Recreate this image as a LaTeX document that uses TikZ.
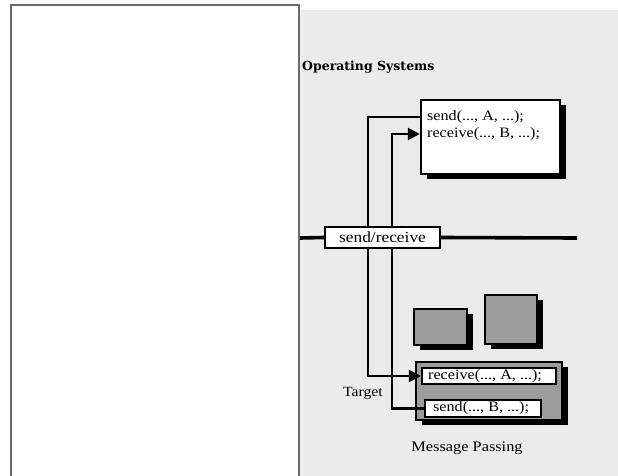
\documentclass[tikz,border=0pt]{standalone}
\usepackage{fontspec}
\setmainfont{Liberation Serif}[FakeStretch=1.12]
\newfontfamily\titlefont{DejaVu Serif}
\usetikzlibrary{shadows,arrows.meta}
\definecolor{paper}{HTML}{EBEBEB}
\definecolor{stone}{HTML}{9C9C9C}
\definecolor{frame}{HTML}{6A6A6A}
\tikzset{
  shadowed/.style={drop shadow={shadow xshift=6pt,shadow yshift=-5pt,fill=black,opacity=1}},
  whitebox/.style={draw=black,fill=white,line width=2.4pt,inner sep=0pt,shadowed},
  graybox/.style={draw=black,fill=stone,line width=2.4pt,inner sep=0pt,shadowed},
  codebox/.style={draw=black,fill=white,line width=2.4pt,inner sep=0pt},
  codetext/.style={anchor=west,inner sep=0pt,font=\fontsize{14.4}{16}\selectfont},
  linkarrow/.style={line width=2.6pt,-{Triangle[length=12pt,width=12pt]}},
  bus/.style={line width=3.6pt},
  caption/.style={inner sep=0pt}
}
\begin{document}
\begin{tikzpicture}[x=1pt,y=-1pt]
\useasboundingbox (0,0) rectangle (618,476);
\fill[white] (0,0) rectangle (618,476);
\fill[paper] (300,10) rectangle (618,476);
\draw[frame,line width=1.6pt] (11,480) -- (11,5) -- (299,5) -- (299,480);

\node[anchor=west,inner sep=0pt,font=\titlefont\bfseries\fontsize{12.5}{14}\selectfont] (title) at (302,67) {Operating Systems};

% top (system) box
\node[whitebox,minimum width=139pt,minimum height=74pt] (sys) at (490.5,137) {};
\node[codetext] (tsend) at (427,117) {send(..., A, ...);};
\node[codetext] (trecv) at (427,134) {receive(..., B, ...);};

% other processes
\node[graybox,minimum width=53pt,minimum height=36pt] (p1) at (440.5,327) {};
\node[graybox,minimum width=52pt,minimum height=49pt] (p2) at (511,319.5) {};

% target process
\node[graybox,minimum width=146pt,minimum height=58pt] (tgt) at (489,391) {};
\node[codebox,minimum width=134pt,minimum height=16pt] (rA) at (489,376) {};
\node[codetext] at (428,376) {receive(..., A, ...);};
\node[codebox,minimum width=116pt,minimum height=17pt] (sB) at (483,408.5) {};
\node[codetext] at (433,408.5) {send(..., B, ...);};

\coordinate (outer) at (368,0);
\coordinate (inner) at (392,0);
\draw[linkarrow] (sys.west |- tsend) -| (outer |- rA.west) -- (rA.west);
\draw[linkarrow] (sB.west) -| (inner |- trecv) -- (sys.west |- trecv);

% message bus
\coordinate (busL) at (300,238);
\coordinate (busR) at (577,238);
\node[draw=black,fill=white,line width=2.2pt,minimum width=115pt,minimum height=21pt,inner sep=0pt,font=\fontsize{15.5}{17}\selectfont] (sr) at (382.5,237.5) {send/receive};
\draw[bus] (busL) -- (sr.west);
\draw[bus] (sr.east) -- (busR);

\node[caption,font=\fontsize{14}{15}\selectfont] (target) at (363,393) {Target};
\node[caption,font=\fontsize{14.6}{16}\selectfont] (mp) at (467,448) {Message Passing};
\end{tikzpicture}
\end{document}
